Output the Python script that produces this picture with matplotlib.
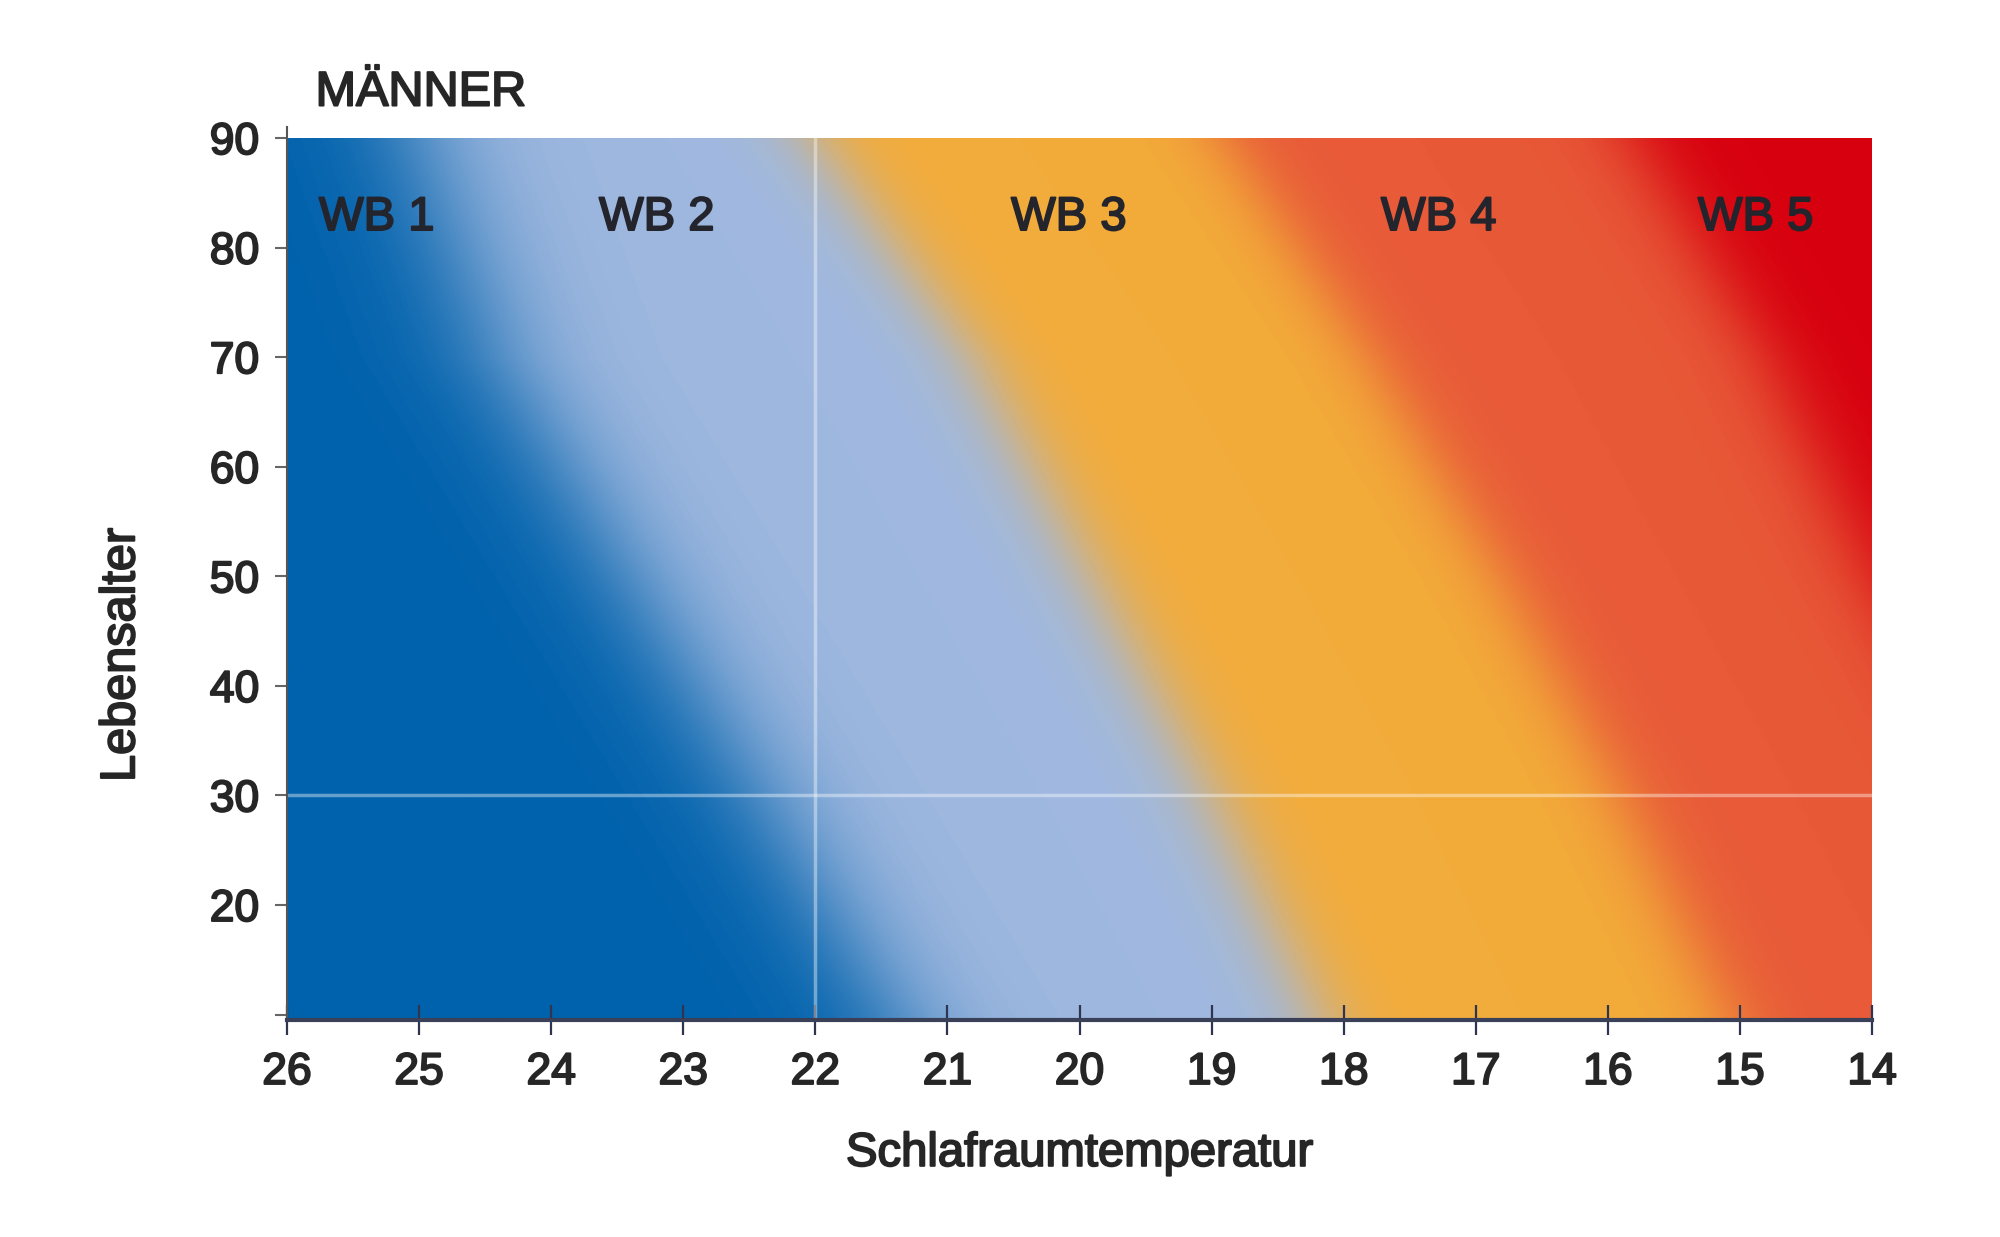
import numpy as np
import matplotlib
matplotlib.use('Agg')
import matplotlib.pyplot as plt
import matplotlib.patheffects as pe
from matplotlib.colors import LinearSegmentedColormap

# Lebensalter-Stuetzstellen und Grenztemperaturen zwischen den Waermebereichen (WB)
ages = [10, 30, 50, 70, 90]
grenze_wb1_wb2 = [21.4, 22.4, 23.4, 24.4, 25.0]
grenze_wb2_wb3 = [18.2, 19.0, 19.9, 20.8, 22.0]
grenze_wb3_wb4 = [15.1, 15.9, 16.8, 17.8, 18.9]
grenze_wb4_wb5 = [12.2, 13.1, 14.0, 14.8, 15.8]
grenzen = [grenze_wb1_wb2, grenze_wb2_wb3, grenze_wb3_wb4, grenze_wb4_wb5]
uebergang = [0.30, 0.18, 0.18, 0.20]   # Breite der weichen Uebergaenge (Grad)

wb_labels = ['WB 1', 'WB 2', 'WB 3', 'WB 4', 'WB 5']
wb_label_x = [25.32, 23.2, 20.08, 17.28, 14.88]
wb_label_y = 82.7
wb_colors = ['#0062ac', '#a0b9e0', '#f3ac3a', '#e85a38', '#d7000f']

x_ticks = list(range(26, 13, -1))
y_ticks = [10, 20, 30, 40, 50, 60, 70, 80, 90]
y_ticklabels = ['', '20', '30', '40', '50', '60', '70', '80', '90']
ref_temp = 22
ref_age = 30

plt.rcParams['font.family'] = ['Liberation Sans', 'DejaVu Sans']
txt = '#262626'
fett = [pe.withStroke(linewidth=1.4, foreground=txt)]

fig = plt.figure(figsize=(20, 12.37), dpi=100)
ax = fig.add_axes([0.1435, 0.1754, 0.7925, 0.713])

temp = np.linspace(26, 14, 900)
alter = np.linspace(9.5, 90, 700)
TT, AA = np.meshgrid(temp, alter)
feld = np.zeros_like(TT)
for g, w in zip(grenzen, uebergang):
    b = np.interp(AA, ages, g)
    feld += 1.0 / (1.0 + np.exp(-(b - TT) / w))

cmap = LinearSegmentedColormap.from_list('wb', wb_colors)
ax.imshow(feld, extent=[26, 14, 9.5, 90], origin='lower', aspect='auto',
          cmap=cmap, vmin=0, vmax=4, interpolation='bilinear', zorder=1)

ax.axvline(ref_temp, color='white', alpha=0.4, lw=2.5, zorder=2)
ax.axhline(ref_age, color='white', alpha=0.4, lw=2.5, zorder=2)

for lab, x in zip(wb_labels, wb_label_x):
    ax.text(x, wb_label_y, lab, ha='center', va='center', fontsize=34,
            color='#24242c', zorder=3,
            path_effects=[pe.withStroke(linewidth=1.4, foreground='#24242c')])

ax.set_xlim(26, 14)
ax.set_ylim(9.5, 90)
ax.set_xticks(x_ticks)
ax.set_yticks(y_ticks)
ax.set_yticklabels(y_ticklabels)

for s in ['top', 'right']:
    ax.spines[s].set_visible(False)
ax.spines['left'].set_color('#555555')
ax.spines['left'].set_linewidth(1.5)
ax.spines['left'].set_bounds(9.5, 91)
ax.spines['bottom'].set_color('#3a4058')
ax.spines['bottom'].set_linewidth(3)
ax.spines['bottom'].set_zorder(4)

ax.tick_params(axis='x', direction='inout', length=22, width=1.6,
               color='#2e3550', labelsize=32, labelcolor=txt, pad=12)
ax.tick_params(axis='y', direction='out', length=9, width=1.5,
               color='#666666', labelsize=32, labelcolor=txt, pad=11)
for lab in ax.get_xticklabels() + ax.get_yticklabels():
    lab.set_path_effects(fett)

ax.set_xlabel('Schlafraumtemperatur', fontsize=34, color=txt, labelpad=28,
              path_effects=fett)
ax.set_ylabel('Lebensalter', fontsize=35, color=txt, path_effects=fett)
ax.yaxis.set_label_coords(-0.09, 0.414)

ax.text(0.018, 1.051, 'MÄNNER', transform=ax.transAxes, ha='left',
        va='center', fontsize=35, color=txt, path_effects=fett)

fig.savefig('out.png', dpi=100, facecolor='white')
